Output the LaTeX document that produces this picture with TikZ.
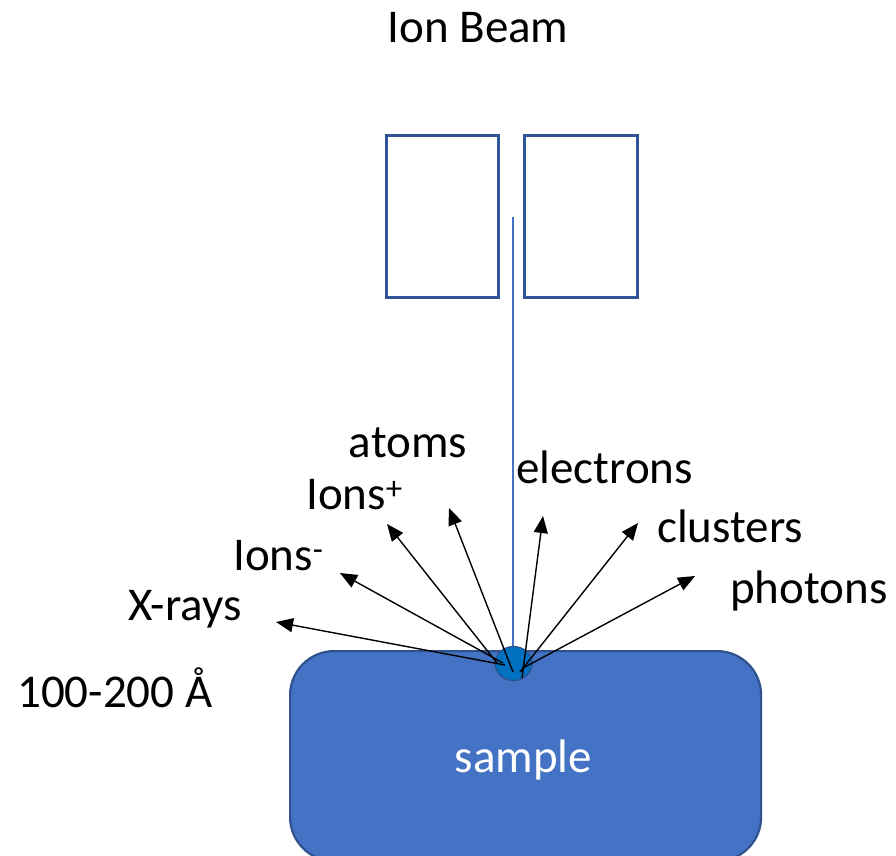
\documentclass[tikz,border=0pt]{standalone}
\usepackage{fontspec}
\setmainfont{Carlito}
\usetikzlibrary{arrows.meta,shapes.geometric}
\definecolor{boxblue}{HTML}{2F5597}
\definecolor{fillblue}{HTML}{4472C4}
\definecolor{edgeblue}{HTML}{2F528F}
\definecolor{spotblue}{HTML}{0070C0}
\tikzset{
  lbl/.style={font=\fontsize{47}{56}\selectfont, inner sep=0pt, text=black},
  slitbox/.style={draw=boxblue, line width=3pt},
  emit/.style={draw=black, line width=1.4pt, -{Triangle[length=17pt,width=14pt]}},
}
\begin{document}
\begin{tikzpicture}[x=1pt,y=-1pt]
\useasboundingbox (0,0) rectangle (896,855);
\clip (0,0) rectangle (896,855);
% slit boxes
\draw[slitbox] (386,135) rectangle (498,297);
\draw[slitbox] (524,135) rectangle (637,297);
% sample
\node[draw=edgeblue, fill=fillblue, line width=2.2pt, rounded corners=44pt,
  minimum width=471pt, minimum height=210pt, anchor=north west, inner sep=0pt] (sample) at (289,650) {};
\node[lbl, text=white, anchor=base] (sampletxt) at (523.5,772) {sample};
% beam
\coordinate (beamtop) at (513,217);
\coordinate (hit) at (513,662);
\draw[fillblue, line width=1.1pt] (beamtop) -- (hit);
% spot
\node[draw=edgeblue, fill=spotblue, line width=1.2pt, ellipse, minimum width=37pt, minimum height=34pt, inner sep=0pt] (spot) at (513.5,663.5) {};
% emission start points and tips
\coordinate (sX) at (505,665);  \coordinate (tX) at (276,622);
\coordinate (sIm) at (503,663); \coordinate (tIm) at (340,573);
\coordinate (sIp) at (497,663); \coordinate (tIp) at (387,524);
\coordinate (sA) at (513,672);  \coordinate (tA) at (449,508);
\coordinate (sE) at (522,678);  \coordinate (tE) at (543,516);
\coordinate (sC) at (520,672);  \coordinate (tC) at (638,523);
\coordinate (sP) at (523,668);  \coordinate (tP) at (695,576);
\draw[emit] (sX) -- (tX);
\draw[emit] (sIm) -- (tIm);
\draw[emit] (sIp) -- (tIp);
\draw[emit] (sA) -- (tA);
\draw[emit] (sE) -- (tE);
\draw[emit] (sC) -- (tC);
\draw[emit] (sP) -- (tP);
% labels
\node[lbl, anchor=base] (ionbeam) at (478,42) {Ion Beam};
\node[lbl, anchor=base] (atoms) at (408,457) {atoms};
\node[lbl, anchor=base west] (ionsp) at (306,509) {Ions\textsuperscript{+}};
\node[lbl, anchor=base west] (ionsm) at (233,570) {Ions\textsuperscript{-}};
\node[lbl, anchor=base west] (xrays) at (128,620) {X-rays};
\node[lbl, anchor=base west] (electrons) at (516,483) {electrons};
\node[lbl, anchor=base west] (clusters) at (657,542) {clusters};
\node[lbl, anchor=base west] (photons) at (730,603) {photons};
\node[lbl, anchor=base west] (depth) at (17,707) {100-200 Å};
\end{tikzpicture}
\end{document}
